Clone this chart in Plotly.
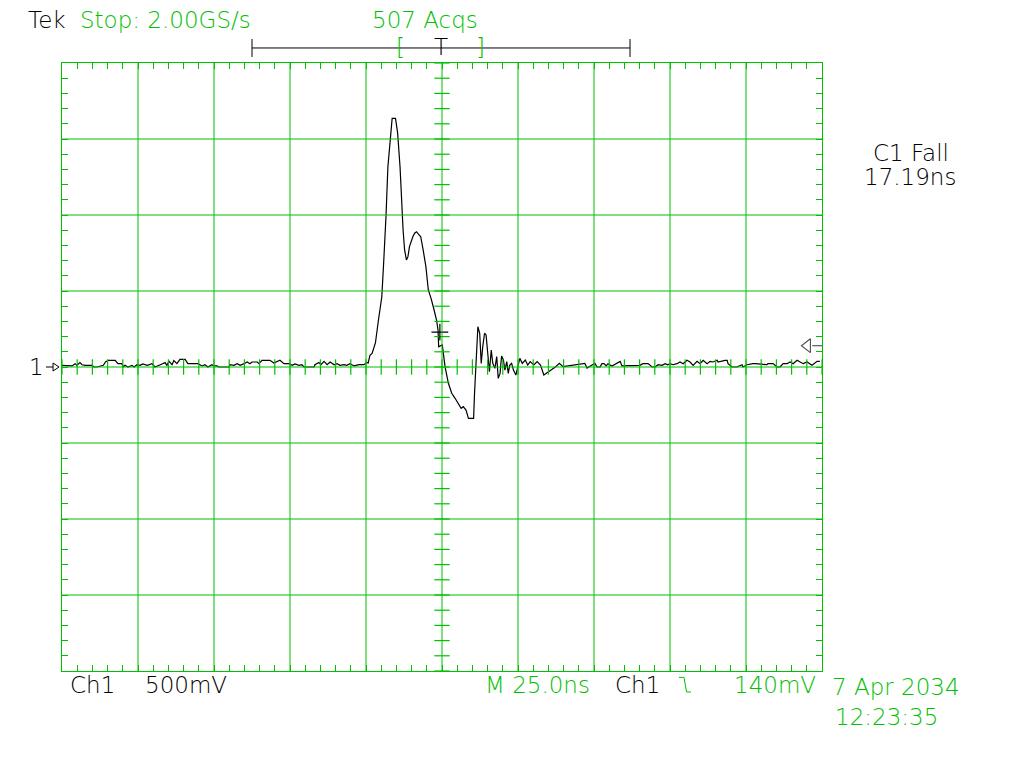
import plotly.graph_objects as go

# ---------------------------------------------------------------------------
# Scope settings
# ---------------------------------------------------------------------------
TIME_PER_DIV_NS = 25.0
VOLTS_PER_DIV_MV = 500.0
TRIGGER_LEVEL_MV = 140.0
FALL_TIME_NS = 17.19

_GREEN = "#00c000"
_BLACK = "#000000"
_FONT = "DejaVu Sans"

# ---------------------------------------------------------------------------
# Waveform samples: time (ns, 0 = trigger) and Ch1 voltage (mV)
# ---------------------------------------------------------------------------
time_ns = [
    -125.0, -123.4, -121.7, -120.7, -120.1, -119.1, -118.4, -117.4, -115.1, -114.5,
    -113.5, -111.4, -110.7, -109.8, -107.5, -106.6, -105.3, -104.9, -104.3, -103.3,
    -102.0, -101.3, -100.3, -99.3, -98.4, -97.0, -95.4, -94.4, -93.4, -92.1,
    -91.1, -90.5, -89.8, -88.8, -88.2, -87.2, -86.2, -84.5, -83.6, -81.9,
    -80.3, -78.9, -78.0, -77.0, -75.7, -75.0, -74.0, -73.4, -70.1, -69.7,
    -68.4, -67.4, -66.4, -65.1, -64.1, -63.2, -62.5, -60.8, -60.2, -59.2,
    -56.6, -55.3, -54.3, -53.3, -52.0, -50.3, -49.3, -48.4, -47.0, -46.1,
    -45.4, -42.1, -41.8, -40.5, -39.8, -38.8, -37.8, -36.8, -35.5, -34.5,
    -33.6, -32.2, -31.3, -30.3, -28.9, -27.3, -25.7, -24.7, -24.3, -23.7,
    -23.0, -21.9, -20.9, -19.8, -19.2, -18.8, -18.4, -17.8, -16.9, -16.4,
    -15.3, -15.1, -14.6, -13.8, -13.1, -12.8, -12.3, -11.7, -11.2, -10.7,
    -9.6, -9.0, -8.4, -7.9, -7.0, -6.2, -5.3, -4.5, -3.6, -2.6,
    -1.8, -1.3, -1.1, 0.1, 1.0, 2.1, 3.2, 4.3, 5.4, 6.3,
    7.0, 7.9, 8.7, 10.4, 10.7, 11.2, 11.8, 12.4, 12.9, 13.4,
    14.0, 14.5, 15.1, 15.6, 16.2, 16.7, 17.4, 18.0, 18.5, 19.1,
    19.6, 20.2, 20.7, 21.3, 21.8, 22.3, 22.9, 23.5, 24.3, 25.1,
    25.6, 26.4, 27.4, 28.2, 29.0, 30.2, 31.3, 32.4, 33.5, 37.4,
    38.6, 39.8, 47.0, 47.7, 50.3, 51.0, 52.0, 52.6, 53.3, 54.0,
    54.6, 55.9, 58.6, 59.2, 65.1, 66.1, 67.8, 69.1, 70.1, 71.1,
    72.4, 73.4, 74.3, 75.0, 76.0, 77.3, 78.3, 79.3, 80.6, 81.6,
    82.6, 83.9, 84.9, 85.9, 87.2, 88.2, 89.1, 90.5, 90.8, 93.1,
    93.8, 94.1, 95.4, 97.0, 98.7, 99.0, 100.3, 102.3, 103.0, 106.9,
    107.2, 108.9, 110.2, 111.2, 112.2, 113.5, 114.5, 115.5, 116.8, 118.8,
    120.1, 121.7, 123.4, 124.3,
]
ch1_mv = [
    11, 11, 7, 22, 11, 29, 15, 11, 11, 0,
    0, 11, 33, 44, 44, 22, 22, 0, 11, 0,
    11, 0, 15, 11, 20, 11, 22, 0, 11, 20,
    29, 11, 37, 15, 42, 22, 50, 50, 22, 22,
    22, 7, 15, 0, 15, 7, 7, 0, 0, 15,
    11, 22, 11, 22, 33, 22, 33, 33, 22, 44,
    44, 26, 33, 44, 22, 22, 11, 20, 11, 15,
    0, 0, 15, 29, 15, 37, 15, 33, 15, 22,
    11, 15, 11, 22, 7, 15, 15, 30, 26, 77,
    90, 158, 309, 462, 682, 908, 1002, 1316, 1540, 1636,
    1636, 1603, 1540, 1316, 1000, 901, 770, 704, 726, 792,
    857, 880, 890, 880, 857, 770, 660, 507, 452, 375,
    309, 243, 133, 145, 2, -107, -173, -206, -239, -272,
    -261, -283, -338, -338, -173, 2, 265, 222, 24, 134,
    222, 211, 46, -31, 112, 24, -9, 68, -75, -42,
    72, 46, -20, 35, -42, 13, 24, -20, -53, 13,
    57, 24, 46, 13, 35, 13, 35, 13, -53, 2,
    24, 2, 24, -7, 24, 0, 0, 22, 22, 7,
    22, 7, 37, 7, 11, 22, 22, 0, 0, 15,
    11, 22, 15, 22, 15, 22, 33, 22, 44, 33,
    11, 37, 22, 44, 22, 37, 33, 44, 33, 44,
    44, 22, 0, 0, 15, 0, 15, 22, 22, 15,
    22, 22, 0, 0, 22, 22, 33, 22, 44, 22,
    33, 11, 37, 37, 22, 11, 22, 15,
]

# cursor cross shown on the falling edge
cursor_time_ns = [-0.7]
cursor_mv = [230]

# ---------------------------------------------------------------------------
# Screen geometry: 10 x 8 divisions
# ---------------------------------------------------------------------------
X_HALF = 5 * TIME_PER_DIV_NS
Y_HALF = 4 * VOLTS_PER_DIV_MV
x_divs = [-X_HALF + i * TIME_PER_DIV_NS for i in range(11)]
y_divs = [-Y_HALF + i * VOLTS_PER_DIV_MV for i in range(9)]
x_minor = [-X_HALF + i * TIME_PER_DIV_NS / 5 for i in range(51)]
y_minor = [-Y_HALF + i * VOLTS_PER_DIV_MV / 5 for i in range(41)]

fig = go.Figure()

fig.add_trace(
    go.Scatter(
        x=time_ns,
        y=ch1_mv,
        mode="lines",
        line={"color": _BLACK, "width": 1.2},
        hoverinfo="skip",
        showlegend=False,
    )
)

# graticule centre-line ticks
fig.add_trace(
    go.Scatter(
        x=x_minor,
        y=[0] * len(x_minor),
        mode="markers",
        marker={"symbol": "line-ns", "size": 11, "line": {"color": _GREEN, "width": 1.2}},
        hoverinfo="skip",
        showlegend=False,
    )
)
fig.add_trace(
    go.Scatter(
        x=[0] * len(y_minor),
        y=y_minor,
        mode="markers",
        marker={"symbol": "line-ew", "size": 11, "line": {"color": _GREEN, "width": 1.2}},
        hoverinfo="skip",
        showlegend=False,
    )
)

# cursor cross
fig.add_trace(
    go.Scatter(
        x=cursor_time_ns,
        y=cursor_mv,
        mode="markers",
        marker={"symbol": "cross-thin", "size": 12, "line": {"color": _BLACK, "width": 1.2}},
        hoverinfo="skip",
        showlegend=False,
    )
)

# trigger level arrow on the right edge
fig.add_trace(
    go.Scatter(
        x=[X_HALF - 4.8, X_HALF - 1.6],
        y=[TRIGGER_LEVEL_MV, TRIGGER_LEVEL_MV],
        mode="markers",
        marker={
            "symbol": ["triangle-left-open", "line-ew"],
            "size": [12, 7],
            "color": _BLACK,
            "line": {"color": _BLACK, "width": 1.1},
        },
        cliponaxis=False,
        hoverinfo="skip",
        showlegend=False,
    )
)

# graticule lines drawn over the trace, like the scope screen
for xv in x_divs[1:-1]:
    fig.add_shape(type="line", x0=xv, x1=xv, y0=-Y_HALF, y1=Y_HALF,
                  line={"color": _GREEN, "width": 1}, layer="above")
for yv in y_divs[1:-1]:
    fig.add_shape(type="line", x0=-X_HALF, x1=X_HALF, y0=yv, y1=yv,
                  line={"color": _GREEN, "width": 1}, layer="above")

# channel 1 ground marker "1 ->" on the left edge
fig.add_shape(type="line", xref="paper", yref="paper", x0=-0.0211, x1=-0.0118,
              y0=0.5, y1=0.5, line={"color": _BLACK, "width": 1})
fig.add_shape(type="path", xref="paper", yref="paper",
              path="M -0.0118,0.5066 L -0.0039,0.5 L -0.0118,0.4934 Z",
              line={"color": _BLACK, "width": 1})

# record-window bar at the top
bar_y = 1.0247
fig.add_shape(type="line", xref="paper", yref="paper", x0=0.25, x1=0.7474,
              y0=bar_y, y1=bar_y, line={"color": _BLACK, "width": 1})
for xb in (0.25, 0.7474):
    fig.add_shape(type="line", xref="paper", yref="paper", x0=xb, x1=xb,
                  y0=1.0099, y1=1.0395, line={"color": _BLACK, "width": 1})

# falling-edge trigger symbol
fig.add_shape(type="path", xref="paper", yref="paper",
              path="M 0.8118,-0.0105 L 0.8184,-0.0105 L 0.8218,-0.0345 L 0.8276,-0.0345",
              line={"color": _GREEN, "width": 1})


def _label(text, x, y, color, anchor="left", size=23):
    fig.add_annotation(
        text=text, x=x, y=y, xref="paper", yref="paper",
        xanchor=anchor, yanchor="middle", showarrow=False,
        font={"family": _FONT, "size": size, "color": color, "weight": 200},
    )


_label("Tek", -0.0474, 1.0707, _BLACK)
_label("Stop: 2.00GS/s", 0.0211, 1.0707, _GREEN)
_label("507 Acqs", 0.4053, 1.0707, _GREEN)
_label("[", 0.446, 1.0263, _GREEN, anchor="center")
_label("]", 0.55, 1.0263, _GREEN, anchor="center")
_label("T", 0.4987, 1.0263, _BLACK, anchor="center")
_label("C1 Fall", 1.117, 0.852, _BLACK, anchor="center")
_label(f"{FALL_TIME_NS:.2f}ns", 1.1158, 0.8125, _BLACK, anchor="center")
_label("1", -0.0342, 0.5, _BLACK, anchor="center")
_label("Ch1", 0.0079, -0.023, _BLACK)
_label(f"{VOLTS_PER_DIV_MV:.0f}mV", 0.1066, -0.023, _BLACK)
_label(f"M {TIME_PER_DIV_NS:.1f}ns", 0.554, -0.023, _GREEN)
_label("Ch1", 0.725, -0.023, _BLACK)
_label(f"{TRIGGER_LEVEL_MV:.0f}mV", 0.8816, -0.023, _GREEN)
_label("7 Apr 2034", 1.0105, -0.0263, _GREEN)
_label("12:23:35", 1.0145, -0.0757, _GREEN)

axis_common = dict(
    showgrid=False,
    zeroline=False,
    showline=True,
    linecolor=_GREEN,
    linewidth=1,
    mirror="ticks",
    ticks="inside",
    ticklen=6,
    tickwidth=1,
    tickcolor=_GREEN,
    showticklabels=False,
    fixedrange=True,
)

fig.update_xaxes(range=[-X_HALF, X_HALF], tick0=-X_HALF, dtick=TIME_PER_DIV_NS / 5, **axis_common)
fig.update_yaxes(range=[-Y_HALF, Y_HALF], tick0=-Y_HALF, dtick=VOLTS_PER_DIV_MV / 5, **axis_common)

fig.update_layout(
    width=1024,
    height=768,
    margin={"l": 62, "r": 202, "t": 63, "b": 97, "pad": 0},
    paper_bgcolor="white",
    plot_bgcolor="white",
    showlegend=False,
    hovermode=False,
)

fig.write_html(
    "out.html",
    config={"displayModeBar": False},
    post_script="document.body.style.margin='0';",
)
